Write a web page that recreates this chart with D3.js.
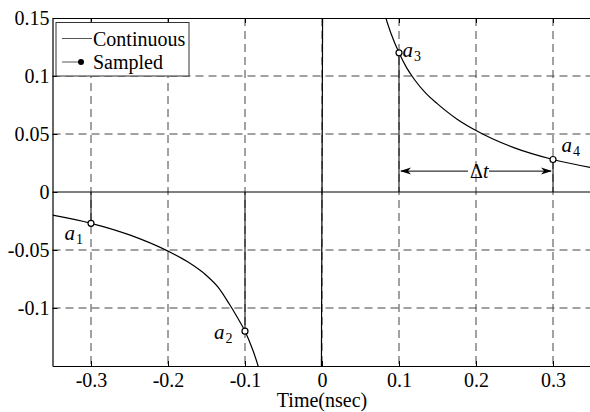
<!DOCTYPE html>
<html>
<head>
<meta charset="utf-8">
<script src="https://cdn.jsdelivr.net/npm/d3@7"></script>
<style>
  body { margin: 0; background: #fff; }
  svg text { font-family: "Liberation Serif", "Times New Roman", Times, serif; }
  .grid line { stroke: #444; stroke-dasharray: 8,5; stroke-width: 1; }
  .axis path, .axis line { stroke: #000; }
  .axis text { font-size: 20px; fill: #000; }
</style>
</head>
<body>
<script>
// Data
var xTicks = [-0.3, -0.2, -0.1, 0, 0.1, 0.2, 0.3];
var xTickLabels = ["-0.3", "-0.2", "-0.1", "0", "0.1", "0.2", "0.3"];
var yTicks = [0.15, 0.1, 0.05, 0, -0.05, -0.1];
var yTickLabels = ["0.15", "0.1", "0.05", "0", "-0.05", "-0.1"];

// continuous curve, negative branch (t < 0) and positive branch (t > 0)
var leftT = [-0.35, -0.3, -0.25, -0.2, -0.175, -0.15, -0.135, -0.12, -0.11, -0.1, -0.09, -0.083, -0.075];
var leftV = [-0.020, -0.027, -0.037, -0.051, -0.060, -0.072, -0.082, -0.097, -0.108, -0.120, -0.136, -0.150, -0.172];
var rightT = [0.075, 0.083, 0.09, 0.1, 0.11, 0.12, 0.135, 0.15, 0.175, 0.2, 0.25, 0.3, 0.35];
var rightV = [0.172, 0.150, 0.136, 0.120, 0.107, 0.097, 0.085, 0.076, 0.063, 0.053, 0.038, 0.028, 0.021];
// jump of the continuous curve through t = 0
var jumpT = [-0.0008, 0.0008];
var jumpV = [-0.16, 0.16];

// sampled values
var sampleT = [-0.3, -0.1, 0.1, 0.3];
var sampleV = [-0.027, -0.120, 0.120, 0.028];
var sampleNames = ["1", "2", "3", "4"];

// delta t marker
var deltaT = [0.1, 0.3];
var deltaY = 0.018;

var svgWidth = 590;
var svgHeight = 412;
var margin = { top: 18, right: 0, bottom: 46, left: 52.5 };
var plotW = 539;
var plotH = svgHeight - margin.top - margin.bottom;
var serif = "'Liberation Serif', 'Times New Roman', Times, serif";

var svg = d3.select("body").append("svg")
  .attr("width", svgWidth)
  .attr("height", svgHeight)
  .attr("font-family", serif);

var x = d3.scaleLinear().domain([-0.35, 0.35]).range([margin.left, margin.left + plotW]);
var y = d3.scaleLinear().domain([-0.15, 0.15]).range([margin.top + plotH, margin.top]);

svg.append("defs").append("clipPath").attr("id", "clip")
  .append("rect")
  .attr("x", x(-0.35)).attr("y", y(0.15))
  .attr("width", x(0.35) - x(-0.35)).attr("height", y(-0.15) - y(0.15));

// grid
var grid = svg.append("g").attr("class", "grid");
grid.selectAll(".gx").data(xTicks).enter().append("line")
  .attr("x1", function(d) { return x(d); }).attr("x2", function(d) { return x(d); })
  .attr("y1", y(0.15)).attr("y2", y(-0.15));
grid.selectAll(".gy").data(yTicks.filter(function(d) { return d !== 0 && d !== 0.15; })).enter().append("line")
  .attr("y1", function(d) { return y(d); }).attr("y2", function(d) { return y(d); })
  .attr("x1", x(-0.35)).attr("x2", x(0.35));

var plot = svg.append("g").attr("clip-path", "url(#clip)");

// zero line
plot.append("line")
  .attr("x1", x(-0.35)).attr("x2", x(0.35))
  .attr("y1", y(0)).attr("y2", y(0))
  .attr("stroke", "#000");

// continuous curve
var line = d3.line()
  .x(function(d) { return x(d[0]); })
  .y(function(d) { return y(d[1]); })
  .curve(d3.curveMonotoneX);

[[leftT, leftV], [rightT, rightV], [jumpT, jumpV]].forEach(function(s) {
  plot.append("path")
    .datum(d3.zip(s[0], s[1]))
    .attr("d", line)
    .attr("fill", "none")
    .attr("stroke", "#000")
    .attr("stroke-width", 1.2);
});

// stems
var samples = d3.zip(sampleT, sampleV, sampleNames);
plot.selectAll(".stem").data(samples).enter().append("line")
  .attr("x1", function(d) { return x(d[0]); }).attr("x2", function(d) { return x(d[0]); })
  .attr("y1", y(0)).attr("y2", function(d) { return y(d[1]); })
  .attr("stroke", "#000");

plot.selectAll(".mark").data(samples).enter().append("circle")
  .attr("cx", function(d) { return x(d[0]); })
  .attr("cy", function(d) { return y(d[1]); })
  .attr("r", 3)
  .attr("fill", "#fff")
  .attr("stroke", "#000")
  .attr("stroke-width", 1.2);

// sample labels
var labelOffsets = [[-26.5, 16.5], [-31, 8], [3.5, 4], [8.5, -7.5]];
var labels = svg.selectAll(".alab").data(samples).enter().append("text")
  .attr("x", function(d, i) { return x(d[0]) + labelOffsets[i][0]; })
  .attr("y", function(d, i) { return y(d[1]) + labelOffsets[i][1]; })
  .style("font-family", serif)
  .attr("font-size", 21);
labels.append("tspan").attr("font-style", "italic").text("a");
labels.append("tspan").attr("font-size", 14).attr("dx", 1).attr("dy", 4).text(function(d) { return d[2]; });

// delta t arrow
var ay = y(deltaY);
var xa = x(deltaT[0]), xb = x(deltaT[1]), xm = x((deltaT[0] + deltaT[1]) / 2);
svg.append("line").attr("x1", xa + 2).attr("x2", xm - 8).attr("y1", ay).attr("y2", ay).attr("stroke", "#000");
svg.append("line").attr("x1", xm + 13).attr("x2", xb - 2).attr("y1", ay).attr("y2", ay).attr("stroke", "#000");
svg.append("path")
  .attr("d", "M" + (xa + 1) + "," + ay + "l11,-3.5l-3,3.5l3,3.5z")
  .attr("fill", "#000");
svg.append("path")
  .attr("d", "M" + (xb - 1) + "," + ay + "l-11,-3.5l3,3.5l-3,3.5z")
  .attr("fill", "#000");
var dl = svg.append("text")
  .attr("x", xm - 6).attr("y", ay + 6.5)
  .style("font-family", serif)
  .attr("font-size", 20);
dl.append("tspan").text("\u0394");
dl.append("tspan").attr("font-style", "italic").text("t");

// axes
var bottomAxis = d3.axisBottom(x).tickValues(xTicks)
  .tickFormat(function(d, i) { return xTickLabels[i]; })
  .tickSizeInner(-5).tickSizeOuter(0).tickPadding(7);
var leftAxis = d3.axisLeft(y).tickValues(yTicks)
  .tickFormat(function(d, i) { return yTickLabels[i]; })
  .tickSizeInner(-5).tickSizeOuter(0).tickPadding(3);
var topAxis = d3.axisTop(x).tickValues(xTicks).tickFormat("")
  .tickSizeInner(-5).tickSizeOuter(0);

svg.append("g").attr("class", "axis")
  .attr("transform", "translate(0," + y(-0.15) + ")")
  .call(bottomAxis);
svg.append("g").attr("class", "axis")
  .attr("transform", "translate(" + x(-0.35) + ",0)")
  .call(leftAxis);
svg.append("g").attr("class", "axis")
  .attr("transform", "translate(0," + y(0.15) + ")")
  .call(topAxis);
svg.selectAll(".axis").attr("font-family", serif).attr("font-size", 20);
svg.selectAll(".axis text").style("font-family", serif);
svg.selectAll(".axis .domain").attr("stroke-width", 1.2);

// x label
svg.append("text")
  .attr("x", x(0)).attr("y", 407)
  .attr("text-anchor", "middle")
  .style("font-family", serif)
  .attr("font-size", 20)
  .text("Time(nsec)");

// legend
var lg = svg.append("g");
lg.append("rect")
  .attr("x", 56).attr("y", 22.5).attr("width", 133).attr("height", 53.5)
  .attr("fill", "#fff").attr("stroke", "#333");
lg.append("line").attr("x1", 62).attr("x2", 92).attr("y1", 38.5).attr("y2", 38.5).attr("stroke", "#555");
lg.append("text").attr("x", 93).attr("y", 45.5).attr("font-size", 20).style("font-family", serif).text("Continuous");
lg.append("line").attr("x1", 62).attr("x2", 81).attr("y1", 62).attr("y2", 62).attr("stroke", "#555");
lg.append("circle").attr("cx", 81).attr("cy", 62).attr("r", 3).attr("fill", "#000");
lg.append("text").attr("x", 93).attr("y", 68.5).attr("font-size", 20).style("font-family", serif).text("Sampled");
</script>
</body>
</html>
